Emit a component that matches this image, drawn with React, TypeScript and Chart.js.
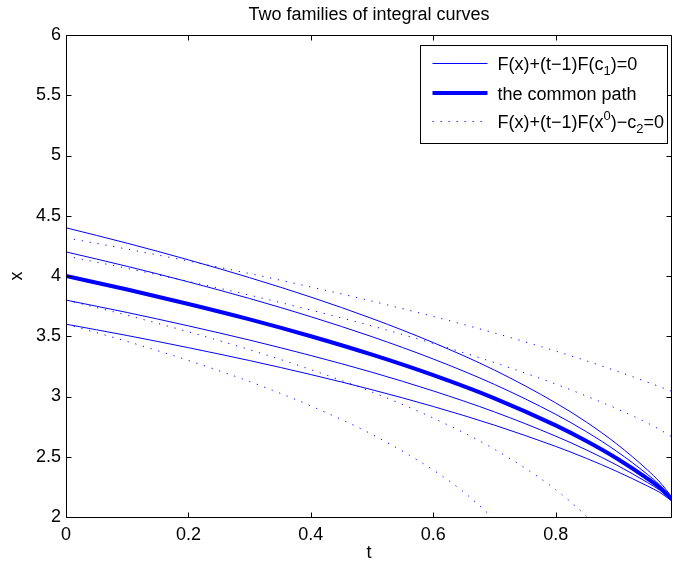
import React, { useEffect, useRef } from 'react';
import { Chart, registerables } from 'chart.js';

Chart.register(...registerables);

// ---------- text ----------
const titleText = 'Two families of integral curves';
const xAxisLabel = 't';
const yAxisLabel = 'x';
const legendLabels = ['F(x)+(t\u22121)F(c_1)=0', 'the common path', 'F(x)+(t\u22121)F(x^0)\u2212c_2=0'];
const legendStyles = ['thin', 'thick', 'dotted'];

// ---------- axes ----------
const xMin = 0;
const xMax = 0.99;
const xStep = 0.2;
const yMin = 2;
const yMax = 6;
const yStep = 0.5;

// ---------- data ----------
const tMain = [0, 0.1, 0.2, 0.3, 0.4, 0.5, 0.6, 0.7, 0.8, 0.85, 0.9, 0.95, 0.97, 0.99];

// solid family F(x)+(t-1)F(c1)=0
const solidC44 = [4.4, 4.272, 4.134, 3.986, 3.825, 3.647, 3.447, 3.219, 2.947, 2.788, 2.605, 2.39, 2.29, 2.165];
const solidC42 = [4.2, 4.08, 3.951, 3.813, 3.662, 3.496, 3.311, 3.1, 2.852, 2.708, 2.544, 2.353, 2.266, 2.155];
const solidC38 = [3.8, 3.697, 3.586, 3.468, 3.34, 3.201, 3.046, 2.872, 2.671, 2.557, 2.43, 2.286, 2.223, 2.14];
const solidC36 = [3.6, 3.506, 3.405, 3.298, 3.182, 3.056, 2.917, 2.762, 2.586, 2.487, 2.378, 2.257, 2.204, 2.132];

// the common path
const commonPath = [4.0, 3.888, 3.768, 3.64, 3.5, 3.347, 3.177, 2.985, 2.76, 2.63, 2.485, 2.318, 2.243, 2.147];

// dotted family F(x)+(t-1)F(x0)-c2=0
const dotted1 = [4.317, 4.223, 4.124, 4.02, 3.909, 3.791, 3.664, 3.527, 3.377, 3.296, 3.21, 3.119, 3.081, 3.042];
const dotted2 = [4.166, 4.063, 3.955, 3.841, 3.717, 3.585, 3.44, 3.281, 3.103, 3.004, 2.898, 2.78, 2.725, 2.665];
const tDotted3 = [0, 0.1, 0.2, 0.3, 0.4, 0.5, 0.6, 0.7, 0.8, 0.85, 0.87];
const dotted3 = [3.8, 3.674, 3.537, 3.388, 3.223, 3.037, 2.821, 2.562, 2.227, 2.007, 1.902];
const tDotted4 = [0, 0.1, 0.2, 0.3, 0.4, 0.5, 0.6, 0.65, 0.7];
const dotted4 = [3.6, 3.457, 3.299, 3.124, 2.922, 2.685, 2.39, 2.206, 1.981];

const FONT = "'Liberation Sans', Arial, Helvetica, sans-serif";
const BLUE = '#0000ff';
const DOT_DASH = [1.2, 6.8];

function pts(ts: number[], ys: number[]) {
  return ts.map((t, i) => ({ x: t, y: ys[i] }));
}

function fmtTick(v: any) {
  return String(parseFloat(Number(v).toFixed(3)));
}

type Seg = { text: string; mode: 'n' | 'sub' | 'sup' };
function parseRich(s: string): Seg[] {
  const out: Seg[] = [];
  let buf = '';
  for (let i = 0; i < s.length; i++) {
    const ch = s[i];
    if ((ch === '_' || ch === '^') && i + 1 < s.length) {
      if (buf) out.push({ text: buf, mode: 'n' });
      buf = '';
      out.push({ text: s[i + 1], mode: ch === '_' ? 'sub' : 'sup' });
      i++;
    } else buf += ch;
  }
  if (buf) out.push({ text: buf, mode: 'n' });
  return out;
}

function richWidth(ctx: CanvasRenderingContext2D, s: string, size: number) {
  let w = 0;
  for (const seg of parseRich(s)) {
    ctx.font = `${seg.mode === 'n' ? size : Math.round(size * 0.72)}px ${FONT}`;
    w += ctx.measureText(seg.text).width;
  }
  return w;
}

function drawRich(ctx: CanvasRenderingContext2D, s: string, x: number, baseline: number, size: number) {
  let cx = x;
  ctx.textBaseline = 'alphabetic';
  ctx.textAlign = 'left';
  for (const seg of parseRich(s)) {
    const fs = seg.mode === 'n' ? size : Math.round(size * 0.72);
    ctx.font = `${fs}px ${FONT}`;
    const dy = seg.mode === 'sub' ? size * 0.28 : seg.mode === 'sup' ? -size * 0.42 : 0;
    ctx.fillText(seg.text, cx, baseline + dy);
    cx += ctx.measureText(seg.text).width;
  }
}

const matlabAxesPlugin = {
  id: 'matlabAxes',
  afterDatasetsDraw(chart: any) {
    const { ctx, chartArea: a, scales } = chart;
    ctx.save();
    ctx.strokeStyle = '#000';
    ctx.lineWidth = 1;
    ctx.setLineDash([]);
    const L = Math.round(a.left) + 0.5;
    const R = Math.round(a.right) - 0.5;
    const T = Math.round(a.top) + 0.5;
    const B = Math.round(a.bottom) + 0.5;
    ctx.beginPath();
    ctx.rect(L, T, R - L, B - T);
    const tl = 5;
    scales.x.ticks.forEach((tk: any) => {
      const px = Math.round(scales.x.getPixelForValue(tk.value)) + 0.5;
      ctx.moveTo(px, B);
      ctx.lineTo(px, B - tl);
      ctx.moveTo(px, T);
      ctx.lineTo(px, T + tl);
    });
    scales.y.ticks.forEach((tk: any) => {
      const py = Math.round(scales.y.getPixelForValue(tk.value)) + 0.5;
      ctx.moveTo(L, py);
      ctx.lineTo(L + tl, py);
      ctx.moveTo(R, py);
      ctx.lineTo(R - tl, py);
    });
    ctx.stroke();

    // title, centred over the plot area
    ctx.fillStyle = '#000';
    ctx.font = `18px ${FONT}`;
    ctx.textAlign = 'center';
    ctx.textBaseline = 'middle';
    ctx.fillText(titleText, (a.left + a.right) / 2, 15);

    // legend box
    const size = 18;
    let maxW = 0;
    legendLabels.forEach((s) => {
      maxW = Math.max(maxW, richWidth(ctx, s, size));
    });
    const boxRight = Math.round(a.right) - 4.5;
    const boxTop = Math.round(a.top) + 10.5;
    const boxW = Math.round(77 + maxW + 4);
    const boxH = 98;
    const boxLeft = boxRight - boxW;
    ctx.fillStyle = '#fff';
    ctx.fillRect(boxLeft, boxTop, boxW, boxH);
    ctx.strokeStyle = '#000';
    ctx.lineWidth = 1;
    ctx.strokeRect(boxLeft, boxTop, boxW, boxH);
    const rowOffsets = [17, 47, 75];
    legendLabels.forEach((s, i) => {
      const ry = Math.round(boxTop + rowOffsets[i]);
      const style = legendStyles[i];
      ctx.strokeStyle = BLUE;
      ctx.lineWidth = style === 'thick' ? 4 : 1;
      ctx.setLineDash(style === 'dotted' ? DOT_DASH : []);
      ctx.beginPath();
      const yy = style === 'thick' ? ry : ry + 0.5;
      ctx.moveTo(boxLeft + 12, yy);
      ctx.lineTo(boxLeft + 67, yy);
      ctx.stroke();
      ctx.setLineDash([]);
      ctx.fillStyle = '#000';
      drawRich(ctx, s, boxLeft + 77, ry + 6.5, size);
    });
    ctx.restore();
  },
};

export default function App() {
  const ref = useRef<HTMLCanvasElement | null>(null);
  useEffect(() => {
    document.body.style.margin = '0';
    const canvas = ref.current;
    if (!canvas) return;
    const solid = (ys: number[]) => ({
      data: pts(tMain, ys),
      borderColor: BLUE,
      borderWidth: 1,
      pointRadius: 0,
      fill: false,
      cubicInterpolationMode: 'monotone' as const,
    });
    const dotted = (ts: number[], ys: number[]) => ({
      data: pts(ts, ys),
      borderColor: BLUE,
      borderWidth: 1,
      borderDash: DOT_DASH,
      pointRadius: 0,
      fill: false,
      cubicInterpolationMode: 'monotone' as const,
    });
    const chart = new Chart(canvas, {
      type: 'line',
      data: {
        datasets: [
          solid(solidC44),
          solid(solidC42),
          solid(solidC38),
          solid(solidC36),
          {
            data: pts(tMain, commonPath),
            borderColor: BLUE,
            borderWidth: 4,
            pointRadius: 0,
            fill: false,
            cubicInterpolationMode: 'monotone' as const,
          },
          dotted(tMain, dotted1),
          dotted(tMain, dotted2),
          dotted(tDotted3, dotted3),
          dotted(tDotted4, dotted4),
        ],
      },
      options: {
        animation: false,
        responsive: false,
        devicePixelRatio: 1,
        layout: { padding: { left: 0, right: 1, top: 35, bottom: 0 } },
        plugins: {
          legend: { display: false },
          tooltip: { enabled: false },
          title: { display: false },
        },
        scales: {
          x: {
            type: 'linear',
            min: xMin,
            max: xMax,
            grid: { display: false, drawTicks: false },
            border: { display: false },
            ticks: {
              stepSize: xStep,
              includeBounds: false,
              autoSkip: false,
              maxRotation: 0,
              color: '#000',
              padding: 7,
              font: { family: FONT, size: 18 },
              callback: fmtTick,
            },
            title: {
              display: true,
              text: xAxisLabel,
              color: '#000',
              font: { family: FONT, size: 18 },
              padding: { top: 0, bottom: 3 },
            },
            afterFit: (s: any) => {
              s.height = 50;
            },
          },
          y: {
            type: 'linear',
            min: yMin,
            max: yMax,
            grid: { display: false, drawTicks: false },
            border: { display: false },
            ticks: {
              stepSize: yStep,
              autoSkip: false,
              color: '#000',
              padding: 5,
              font: { family: FONT, size: 18 },
              callback: fmtTick,
            },
            title: {
              display: true,
              text: yAxisLabel,
              color: '#000',
              font: { family: FONT, size: 18 },
              padding: { top: 6, bottom: 0 },
            },
            afterFit: (s: any) => {
              s.width = 66;
            },
          },
        },
      },
      plugins: [matlabAxesPlugin],
    });
    return () => chart.destroy();
  }, []);
  return (
    <div style={{ width: 673, height: 567 }}>
      <canvas ref={ref} width={673} height={567} style={{ display: 'block' }} />
    </div>
  );
}
